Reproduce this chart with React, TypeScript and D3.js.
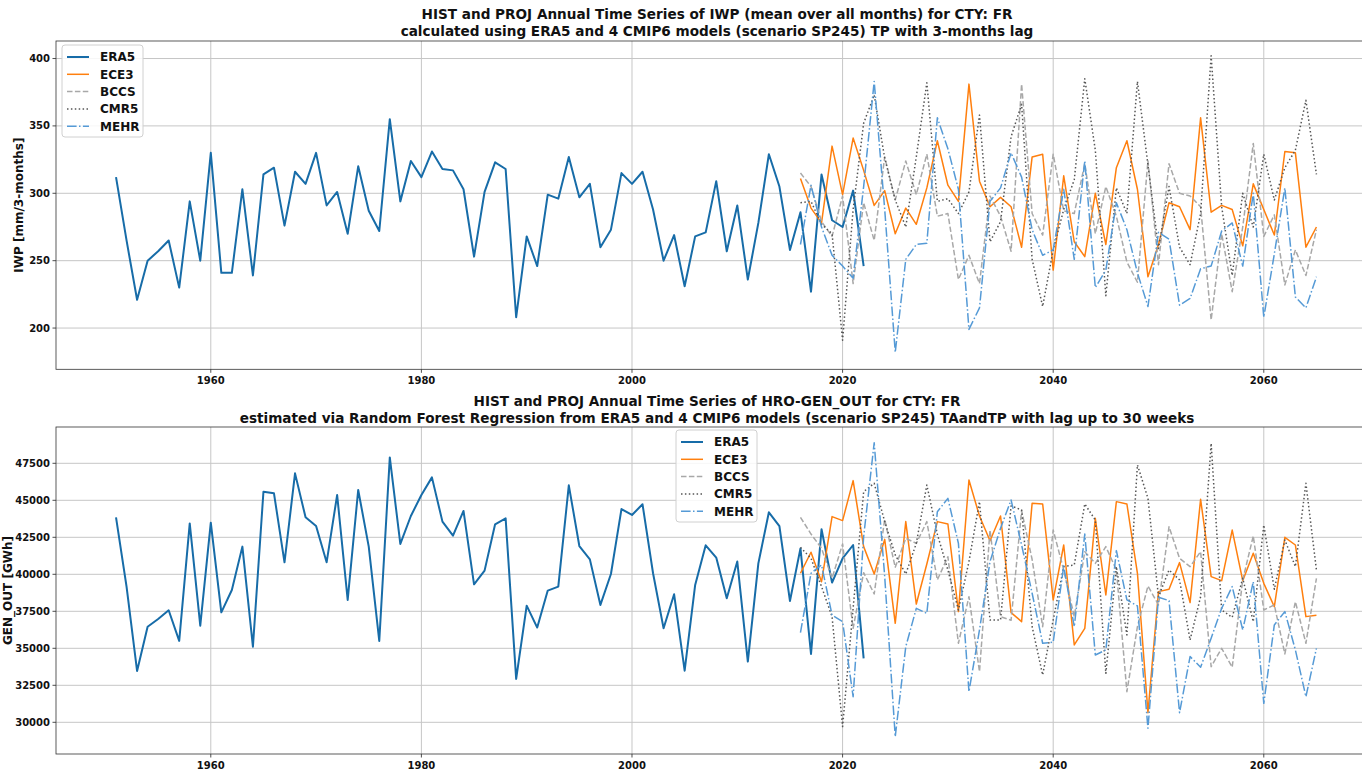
import * as d3 from "d3";

// years
const histYears = d3.range(1951, 2023);
const projYears = d3.range(2016, 2066);
const xTicks = [1960, 1980, 2000, 2020, 2040, 2060];

// top panel: IWP [mm/3-months]
const iwpEra5 = [312, 265, 221, 250, 257, 265, 230, 294, 250, 330,
  241, 241, 303, 239, 314, 319, 276, 316, 307, 330,
  291, 301, 270, 320, 287, 272, 355, 294, 324, 312,
  331, 318, 317, 303, 253, 301, 323, 318, 208, 268,
  246, 299, 296, 327, 297, 307, 260, 273, 315, 307,
  316, 288, 250, 269, 231, 268, 271, 309, 257, 291,
  236, 278, 329, 305, 258, 286, 227, 314, 280, 275,
  302, 246];
const iwpEce3 = [311, 289, 278, 335, 299, 341, 317, 291, 302, 270,
  289, 277, 304, 339, 306, 294, 381, 309, 290, 297,
  290, 260, 327, 329, 243, 313, 264, 253, 300, 262,
  319, 339, 303, 238, 262, 293, 290, 273, 356, 286,
  291, 288, 261, 307, 288, 269, 331, 330, 260, 275];
const iwpBccs = [315, 305, 279, 268, 298, 233, 293, 265, 327, 295,
  324, 299, 329, 283, 285, 236, 254, 233, 298, 283,
  257, 381, 285, 269, 329, 287, 285, 322, 270, 305,
  283, 249, 234, 324, 247, 322, 300, 298, 290, 206,
  270, 227, 275, 337, 268, 284, 232, 258, 239, 273];
const iwpCmr5 = [293, 294, 277, 270, 191, 288, 352, 373, 326, 295,
  275, 327, 382, 294, 296, 285, 301, 358, 264, 279,
  342, 366, 251, 216, 258, 288, 310, 385, 332, 224,
  304, 285, 383, 321, 259, 305, 260, 247, 285, 402,
  290, 239, 300, 275, 329, 295, 319, 332, 369, 314];
const iwpMehr = [262, 306, 275, 254, 246, 237, 305, 383, 288, 182,
  251, 262, 263, 356, 333, 303, 199, 215, 294, 304,
  330, 312, 273, 254, 258, 303, 251, 324, 230, 243,
  293, 273, 241, 216, 271, 266, 217, 222, 244, 246,
  272, 278, 246, 300, 208, 255, 304, 223, 215, 238];
const iwpTicks = [200, 250, 300, 350, 400];

// bottom panel: GEN_OUT [GWh]
const genEra5 = [43850, 39165, 33470, 36460, 36980, 37570, 35500, 43440, 36530, 43490,
  37430, 38940, 41870, 35110, 45580, 45470, 40810, 46820, 43850, 43260,
  40810, 45360, 38270, 45700, 41870, 35500, 47900, 42050, 43940, 45360,
  46550, 43560, 42610, 44280, 39320, 40250, 43380, 43780, 32930, 37880,
  36400, 38900, 39170, 46010, 41910, 41010, 37930, 40020, 44410, 44010,
  44730, 40070, 36350, 38650, 33490, 39280, 41960, 41130, 38380, 40860,
  34100, 40740, 44190, 43260, 38200, 41750, 34620, 43040, 39440, 41080,
  41980, 34320];
const genEce3 = [40070, 41490, 39500, 43900, 43630, 46330, 41870, 40020, 42360, 36690,
  43560, 37990, 40700, 43560, 43400, 37480, 46370, 43940, 42270, 43940,
  37410, 36800, 44800, 44750, 38270, 41980, 35230, 36350, 43780, 38600,
  44910, 44750, 40070, 30650, 38830, 38990, 40790, 38090, 45070, 39840,
  39570, 42990, 39570, 41420, 39390, 37810, 42500, 41980, 37140, 37230];
const genBccs = [43850, 42720, 41760, 39730, 42050, 36350, 40110, 38670, 43710, 40470,
  42430, 42090, 43560, 39620, 41190, 35340, 38490, 33420, 42990, 37140,
  36900, 44300, 41000, 36460, 42990, 40290, 37140, 41530, 40740, 41870,
  40290, 32070, 36460, 39210, 37930, 43220, 41080, 40520, 41530, 33760,
  35000, 33720, 39620, 42590, 37590, 37930, 34620, 38150, 35340, 39730];
const genCmr5 = [41820, 41080, 39170, 37140, 29710, 37700, 45580, 46150, 43560, 41310,
  40020, 42090, 46030, 42700, 40290, 37590, 40860, 44910, 36910, 36910,
  44620, 44350, 36460, 33200, 36910, 40520, 40630, 44750, 43670, 33310,
  40520, 35900, 47390, 45130, 38490, 40290, 39620, 35560, 38490, 48850,
  37590, 37090, 39730, 36800, 43330, 38990, 42320, 40520, 46150, 40290];
const genMehr = [36060, 40070, 40630, 37250, 36800, 31730, 42540, 48890, 39840, 29030,
  35110, 37700, 37360, 44230, 45130, 42090, 32070, 36240, 40860, 43110,
  45020, 41980, 38720, 35340, 35410, 40560, 36460, 42720, 34550, 34890,
  41600, 38270, 37860, 29600, 38450, 38220, 30650, 34440, 33720, 35680,
  37700, 39170, 36240, 39500, 31280, 36580, 37480, 34890, 31730, 35000];
const genTicks = [30000, 32500, 35000, 37500, 40000, 42500, 45000, 47500];

const seriesNames = ["ERA5", "ECE3", "BCCS", "CMR5", "MEHR"];
const styles: Record<string, { color: string; width: number; dash: string }> = {
  ERA5: { color: "#176ca8", width: 2, dash: "" },
  ECE3: { color: "#ff7f0e", width: 1.5, dash: "" },
  BCCS: { color: "#a8a8a8", width: 1.5, dash: "5.5,2.4" },
  CMR5: { color: "#555555", width: 1.5, dash: "1.5,2.4" },
  MEHR: { color: "#559ad6", width: 1.5, dash: "9.6,2.4,1.5,2.4" },
};

const FONT = "DejaVu Sans, sans-serif";
const x = d3.scaleLinear().domain([1945.3, 2070.7]).range([56, 56 + 125.4 * 10.53]);

function Panel({ top, bottom, domain, ticks, ylabel, ylabelX, titles, titleY, legendX, legendY, data }: any) {
  const y = d3.scaleLinear().domain(domain).range([bottom, top]);
  const line = d3.line<[number, number]>().x(d => x(d[0])).y(d => y(d[1]));
  const [x0, x1] = x.range();
  return (
    <g>
      {titles.map((t: string, i: number) => (
        <text key={t} x={717} y={titleY + i * 16.5} textAnchor="middle" fontSize={13.6} fontWeight="bold" fill="#111">{t}</text>
      ))}
      {ticks.map((t: number) => (
        <g key={t}>
          <line x1={x0} x2={x1} y1={y(t)} y2={y(t)} stroke="#c6c6c6" strokeWidth={1} />
          <line x1={x0 - 3.5} x2={x0} y1={y(t)} y2={y(t)} stroke="#222" strokeWidth={0.8} />
          <text x={x0 - 6} y={y(t)} dy="0.35em" textAnchor="end" fontSize={10} fontWeight="bold" fill="#111">{t}</text>
        </g>
      ))}
      {xTicks.map(t => (
        <g key={t}>
          <line x1={x(t)} x2={x(t)} y1={top} y2={bottom} stroke="#c6c6c6" strokeWidth={1} />
          <line x1={x(t)} x2={x(t)} y1={bottom} y2={bottom + 3.5} stroke="#222" strokeWidth={0.8} />
          <text x={x(t)} y={bottom + 15} textAnchor="middle" fontSize={10} fontWeight="bold" fill="#111">{t}</text>
        </g>
      ))}
      {seriesNames.map(name => {
        const s = styles[name];
        const yrs = name === "ERA5" ? histYears : projYears;
        const pts: [number, number][] = data[name].map((v: number, i: number) => [yrs[i], v]);
        return <path key={name} d={line(pts) || ""} fill="none" stroke={s.color} strokeWidth={s.width}
          strokeDasharray={s.dash || undefined} strokeLinejoin="round" />;
      })}
      <rect x={x0} y={top} width={x1 - x0} height={bottom - top} fill="none" stroke="#333" strokeWidth={0.8} />
      <text transform={`translate(${ylabelX},${(top + bottom) / 2}) rotate(-90)`} textAnchor="middle" fontSize={12} fontWeight="bold" fill="#111">{ylabel}</text>
      <g transform={`translate(${legendX},${legendY})`}>
        <rect x={0} y={0} width={81} height={92} rx={3} fill="white" fillOpacity={0.85} stroke="#d0d0d0" strokeWidth={1} />
        {seriesNames.map((name, i) => {
          const s = styles[name];
          const ly = 12 + i * 17.3;
          return (
            <g key={name}>
              <line x1={5} x2={27} y1={ly} y2={ly} stroke={s.color} strokeWidth={s.width} strokeDasharray={s.dash || undefined} />
              <text x={38} y={ly} dy="0.36em" fontSize={12} fontWeight="bold" fill="#111">{name}</text>
            </g>
          );
        })}
      </g>
    </g>
  );
}

export default function App() {
  return (
    <div style={{ position: "absolute", left: 0, top: 0, background: "white" }}>
      <svg width={1362} height={770} style={{ display: "block", fontFamily: FONT }}>
        <rect width={1362} height={770} fill="white" />
        <Panel top={41} bottom={369.3} domain={[169.4, 413]} ticks={iwpTicks} ylabel="IWP [mm/3-months]" ylabelX={23}
          titles={["HIST and PROJ Annual Time Series of IWP (mean over all months) for CTY: FR",
            "calculated using ERA5 and 4 CMIP6 models (scenario SP245) TP with 3-months lag"]}
          titleY={19} legendX={62} legendY={45}
          data={{ ERA5: iwpEra5, ECE3: iwpEce3, BCCS: iwpBccs, CMR5: iwpCmr5, MEHR: iwpMehr }} />
        <Panel top={427} bottom={754} domain={[27858, 49953]} ticks={genTicks} ylabel="GEN_OUT [GWh]" ylabelX={11.5}
          titles={["HIST and PROJ Annual Time Series of HRO-GEN_OUT for CTY: FR",
            "estimated via Random Forest Regression from ERA5 and 4 CMIP6 models (scenario SP245) TAandTP with lag up to 30 weeks"]}
          titleY={406} legendX={676} legendY={430}
          data={{ ERA5: genEra5, ECE3: genEce3, BCCS: genBccs, CMR5: genCmr5, MEHR: genMehr }} />
      </svg>
    </div>
  );
}
